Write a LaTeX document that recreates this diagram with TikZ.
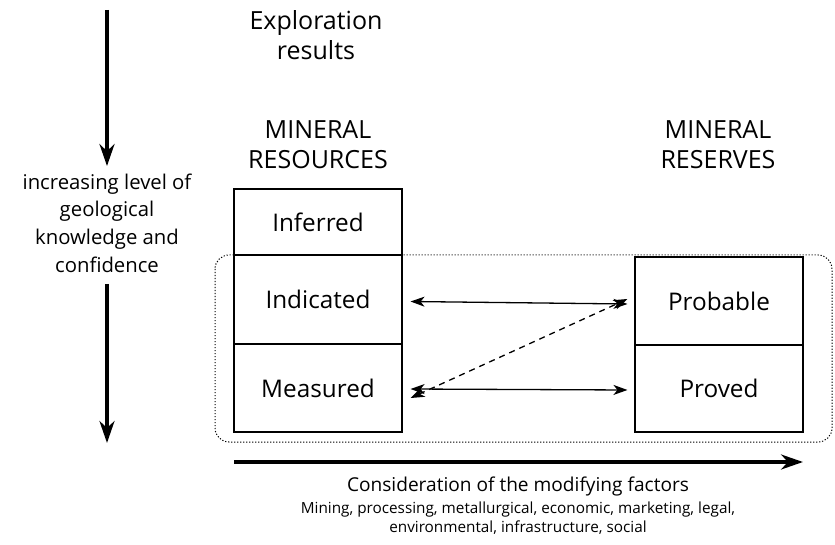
\documentclass[tikz,border=0pt]{standalone}
\usepackage{fontspec}
\setmainfont{Open Sans}
\usepackage{tikz}
\usetikzlibrary{arrows.meta}

\tikzset{
  class/.style={draw, line width=1.1pt, minimum width=168pt, inner sep=0pt, font=\fontsize{24.3}{27}\selectfont},
  head/.style={align=center, font=\fontsize{25}{30}\selectfont},
  link/.style={{Stealth[length=14pt,width=10pt,inset=4pt]}-{Stealth[length=14pt,width=10pt,inset=4pt]}, line width=1.3pt},
  bigarrow/.style={-{Stealth[length=22pt,width=15pt]}, line width=4pt}
}

\begin{document}
\begin{tikzpicture}[x=1pt,y=-1pt]
			\useasboundingbox (0,0) rectangle (835,545);
			% resources and reserves
			\node [class, minimum height=66pt] (inferred) at (318,222) {Inferred};
			\node [class, minimum height=89pt] (indicated) at (318,299.5) {Indicated};
			\node [class, minimum height=88pt] (measured) at (318,388) {Measured};
			\node [class, minimum height=88pt] (probable) at (719,301) {Probable};
			\node [class, minimum height=87pt] (proved) at (719,388.5) {Proved};
			\draw [line width=1pt, dash pattern=on 1.2pt off 1.8pt, rounded corners=14pt] (215,255) rectangle (832,442);
			% headings
			\node [head] (explor) at (316,35) {Exploration\\results};
			\node [head] (resources) at (318,145) {MINERAL\\RESOURCES};
			\node [head] (reserves) at (718,145) {MINERAL\\RESERVES};
			% conversions
			\draw [link] ([xshift=8pt,yshift=-2pt]indicated.east) -- ([xshift=-7pt,yshift=-3pt]probable.west);
			\draw [link] ([xshift=8pt,yshift=-1pt]measured.east) -- ([xshift=-7pt,yshift=-1.5pt]proved.west);
			\draw [link, dash pattern=on 6pt off 5pt] ([xshift=8pt,yshift=-10pt]measured.east) -- ([xshift=-7pt,yshift=2pt]probable.west);
			% confidence
			\node [align=center, font=\fontsize{20.3}{27.7}\selectfont] (confid) at (107,223) {increasing level of\\geological\\knowledge and\\confidence};
			\coordinate (top) at (107,10);
			\coordinate (bottom) at (107,443);
			\draw [bigarrow] (top) -- ([yshift=4pt]confid.north);
			\draw [bigarrow] ([yshift=-8pt]confid.south) -- (bottom);
			% modifying factors
			\coordinate (start) at (234,462);
			\coordinate (end) at (803,462);
			\draw [bigarrow] (start) -- (end);
			\node [font=\fontsize{19.1}{22}\selectfont] (consid) at (518,486) {Consideration of the modifying factors};
			\node [align=center, font=\fontsize{15.3}{19}\selectfont] (factors) at (518,518) {Mining, processing, metallurgical, economic, marketing, legal,\\environmental, infrastructure, social};
		\end{tikzpicture}
\end{document}
